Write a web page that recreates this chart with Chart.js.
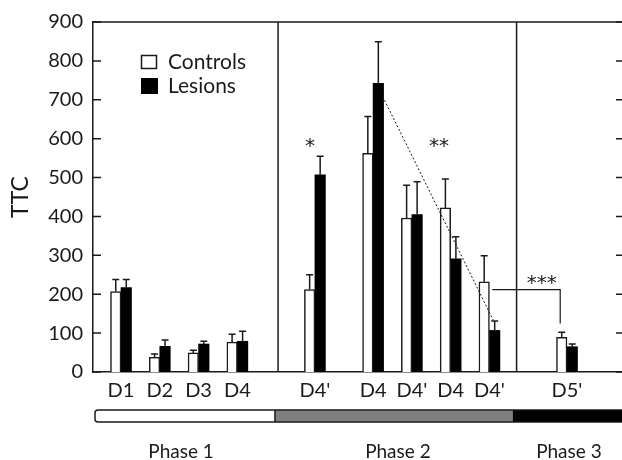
<!DOCTYPE html>
<html>
<head>
<meta charset="utf-8">
<script src="https://cdn.jsdelivr.net/npm/chart.js@4/dist/chart.umd.min.js"></script>
<style>
  html, body { margin: 0; padding: 0; overflow: hidden; background: #fff; }
  #wrap { width: 622px; height: 460px; overflow: hidden; }
</style>
</head>
<body>
<div id="wrap"><canvas id="c" width="640" height="460"></canvas></div>
<script>
// ---- data ----
const categories = ['D1', 'D2', 'D3', 'D4', "D4'", 'D4', "D4'", 'D4', "D4'", "D5'"];
// position of each day along the session axis (in half-day steps)
const slots = [0, 2, 4, 6, 10, 13, 15, 17, 19, 23];
const controlsTTC = [207, 38, 49, 77, 212, 562, 396, 422, 232, 89];
const controlsSEM = [31, 8, 7, 20, 38, 95, 84, 74, 67, 13];
const lesionsTTC = [217, 66, 72, 79, 507, 742, 405, 291, 107, 65];
const lesionsSEM = [21, 16, 7, 26, 48, 107, 84, 57, 24, 7];
const yTicks = [0, 100, 200, 300, 400, 500, 600, 700, 800, 900];
const phaseLabels = ['Phase 1', 'Phase 2', 'Phase 3'];
const seriesNames = ['Controls', 'Lesions'];

// ---- annotation anchors (in data units) ----
const phaseBreaks = [8.1, 20.4];
const phaseBarBreaks = [-1.34, 7.94, 20.2, 30];
const phaseBarFill = ['#ffffff', '#808080', '#000000'];
const phaseTextAt = [3.1, 14.28, 23.1];
const stars = [
  { text: '*', x: 9.75, y: 597 },
  { text: '**', x: 16.4, y: 597 },
  { text: '***', x: 21.7, y: 244 }
];
const trendLine = { x0: 13.5, y0: 708, x1: 19.2, y1: 133 };
const bracket = { x0: 19.15, x1: 22.65, y: 212, yEnd: 125 };

const FONT = 'Lato, "Open Sans", sans-serif';
const INK = '#1a1a1a';

const errorBars = {
  id: 'errorBars',
  afterDatasetsDraw(chart) {
    const ctx = chart.ctx;
    const ys = chart.scales.y;
    const sems = [controlsSEM, lesionsSEM];
    ctx.save();
    ctx.strokeStyle = INK;
    ctx.lineWidth = 1.5;
    chart.data.datasets.forEach((ds, di) => {
      const meta = chart.getDatasetMeta(di);
      meta.data.forEach((el, i) => {
        const v = ds.data[i].y;
        const top = ys.getPixelForValue(v + sems[di][i]);
        ctx.beginPath();
        ctx.moveTo(el.x, el.y);
        ctx.lineTo(el.x, top);
        ctx.moveTo(el.x - 3.5, top);
        ctx.lineTo(el.x + 3.5, top);
        ctx.stroke();
      });
    });
    ctx.restore();
  }
};

const decorations = {
  id: 'decorations',
  afterDraw(chart) {
    const ctx = chart.ctx;
    const xs = chart.scales.x, ys = chart.scales.y;
    const a = chart.chartArea;
    ctx.save();
    ctx.strokeStyle = INK;
    ctx.lineWidth = 1.5;
    // frame top + right
    ctx.beginPath();
    ctx.moveTo(a.left, a.top);
    ctx.lineTo(a.right, a.top);
    ctx.lineTo(a.right, a.bottom);
    ctx.stroke();
    // inward ticks
    yTicks.forEach(t => {
      const py = ys.getPixelForValue(t);
      ctx.beginPath();
      ctx.moveTo(a.left, py); ctx.lineTo(a.left + 8, py);
      ctx.moveTo(a.right, py); ctx.lineTo(a.right - 8, py);
      ctx.stroke();
    });
    // phase separators
    phaseBreaks.forEach(b => {
      const px = xs.getPixelForValue(b);
      ctx.beginPath();
      ctx.moveTo(px, a.top); ctx.lineTo(px, a.bottom);
      ctx.stroke();
    });
    // dotted trend line
    ctx.save();
    ctx.lineWidth = 1;
    ctx.setLineDash([2, 2]);
    ctx.beginPath();
    ctx.moveTo(xs.getPixelForValue(trendLine.x0), ys.getPixelForValue(trendLine.y0));
    ctx.lineTo(xs.getPixelForValue(trendLine.x1), ys.getPixelForValue(trendLine.y1));
    ctx.stroke();
    ctx.restore();
    // bracket
    ctx.lineWidth = 1.2;
    ctx.beginPath();
    ctx.moveTo(xs.getPixelForValue(bracket.x0), ys.getPixelForValue(bracket.y));
    ctx.lineTo(xs.getPixelForValue(bracket.x1), ys.getPixelForValue(bracket.y));
    ctx.lineTo(xs.getPixelForValue(bracket.x1), ys.getPixelForValue(bracket.yEnd));
    ctx.stroke();
    // stars
    ctx.fillStyle = INK;
    ctx.font = '20px "DejaVu Sans", sans-serif';
    ctx.textAlign = 'center';
    ctx.textBaseline = 'alphabetic';
    stars.forEach(s => {
      ctx.fillText(s.text, xs.getPixelForValue(s.x), ys.getPixelForValue(s.y) + 12);
    });
    // legend
    ctx.lineWidth = 1.5;
    ctx.fillStyle = '#fff';
    ctx.fillRect(141, 55, 16, 14);
    ctx.strokeRect(141.5, 55.5, 15, 13);
    ctx.fillStyle = '#000';
    ctx.fillRect(141, 78, 17, 16);
    ctx.fillStyle = INK;
    ctx.font = '21px ' + FONT;
    ctx.textAlign = 'left';
    ctx.textBaseline = 'middle';
    ctx.fillText(seriesNames[0], 168, 62);
    ctx.fillText(seriesNames[1], 168, 86);
    // phase bar
    const barTop = 410, barH = 12;
    for (let i = 0; i < 3; i++) {
      const x0 = xs.getPixelForValue(phaseBarBreaks[i]);
      const x1 = xs.getPixelForValue(phaseBarBreaks[i + 1]);
      ctx.fillStyle = phaseBarFill[i];
      ctx.fillRect(x0, barTop, x1 - x0, barH);
    }
    ctx.lineWidth = 1.5;
    const bx0 = xs.getPixelForValue(phaseBarBreaks[0]);
    ctx.beginPath();
    ctx.moveTo(xs.getPixelForValue(phaseBarBreaks[3]), barTop);
    ctx.lineTo(bx0 + 3, barTop);
    ctx.arcTo(bx0, barTop, bx0, barTop + 3, 3);
    ctx.lineTo(bx0, barTop + barH - 3);
    ctx.arcTo(bx0, barTop + barH, bx0 + 3, barTop + barH, 3);
    ctx.lineTo(xs.getPixelForValue(phaseBarBreaks[3]), barTop + barH);
    ctx.stroke();
    ctx.beginPath();
    ctx.moveTo(xs.getPixelForValue(phaseBarBreaks[1]), barTop);
    ctx.lineTo(xs.getPixelForValue(phaseBarBreaks[1]), barTop + barH);
    ctx.stroke();
    // phase labels
    ctx.fillStyle = INK;
    ctx.font = '19px ' + FONT;
    ctx.textAlign = 'center';
    ctx.textBaseline = 'middle';
    phaseLabels.forEach((t, i) => {
      ctx.fillText(t, xs.getPixelForValue(phaseTextAt[i]), 452);
    });
    ctx.restore();
  }
};

new Chart(document.getElementById('c'), {
  type: 'bar',
  data: {
    datasets: [
      {
        label: seriesNames[0],
        data: slots.map((s, i) => ({ x: s, y: controlsTTC[i] })),
        backgroundColor: '#ffffff',
        borderColor: INK,
        borderWidth: 1.5,
        barThickness: 10.5
      },
      {
        label: seriesNames[1],
        data: slots.map((s, i) => ({ x: s, y: lesionsTTC[i] })),
        backgroundColor: '#000000',
        borderColor: '#000000',
        borderWidth: 0,
        barThickness: 10.5
      }
    ]
  },
  options: {
    responsive: false,
    animation: false,
    devicePixelRatio: 1,
    layout: { padding: { left: 0, right: 16, top: 20, bottom: 0 } },
    plugins: { legend: { display: false }, tooltip: { enabled: false } },
    scales: {
      x: {
        type: 'linear',
        offset: false,
        min: -1.444,
        max: 25.94,
        afterBuildTicks: (scale) => { scale.ticks = slots.map(v => ({ value: v })); },
        afterFit: (scale) => { scale.height = 88; },
        grid: { display: false, drawTicks: false, offset: false },
        border: { display: true, color: INK, width: 1.5 },
        ticks: {
          autoSkip: false,
          maxRotation: 0,
          padding: 7,
          color: INK,
          font: { family: FONT, size: 20 },
          callback: (value, index) => categories[index]
        }
      },
      y: {
        min: 0,
        max: 900,
        afterBuildTicks: (scale) => { scale.ticks = yTicks.map(v => ({ value: v })); },
        afterFit: (scale) => { scale.width = 93; },
        grid: { display: false, drawTicks: false },
        border: { display: true, color: INK, width: 1.5 },
        ticks: {
          padding: 10,
          color: INK,
          font: { family: FONT, size: 20 }
        },
        title: {
          display: true,
          text: 'TTC',
          color: INK,
          font: { family: FONT, size: 23 },
          padding: { top: 7, bottom: 0 }
        }
      }
    }
  },
  plugins: [errorBars, decorations]
});
</script>
</body>
</html>
